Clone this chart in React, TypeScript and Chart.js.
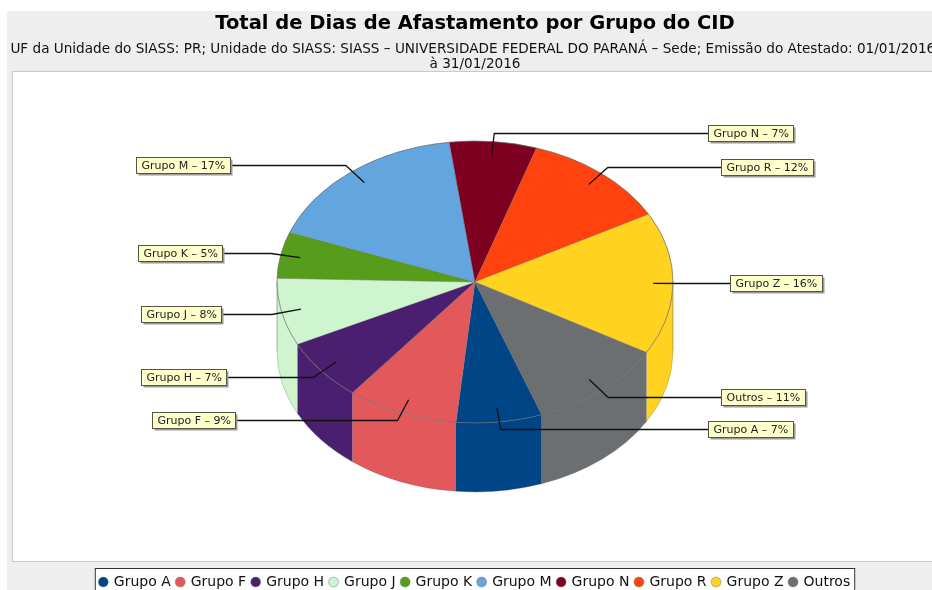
import React, { useEffect, useRef } from "react";
import { Chart, registerables } from "chart.js";

Chart.register(...registerables);

const categories = ["Grupo A", "Grupo F", "Grupo H", "Grupo J", "Grupo K", "Grupo M", "Grupo N", "Grupo R", "Grupo Z", "Outros"];
const shares = [7.0, 9.1, 7.1, 7.7, 5.3, 17.2, 7.1, 12.0, 16.3, 11.2];
const colors = ["#004586", "#E2585B", "#4B1F6F", "#CEF5CE", "#579D1C", "#63A6DF", "#7E0021", "#FF420E", "#FFD320", "#6B6F72"];
const titleText = "Total de Dias de Afastamento por Grupo do CID";
const subtitleLines = [
  "UF da Unidade do SIASS: PR; Unidade do SIASS: SIASS – UNIVERSIDADE FEDERAL DO PARANÁ – Sede; Emissão do Atestado: 01/01/2016\u00A0",
  "à 31/01/2016",
];
// where each callout box meets its leader line
const labelReach = [233, 240, 249, 254, 253, 245, 233, 246, 255, 246];
const labelY = [429, 420, 377, 314, 253, 165, 133, 167, 283, 397];

const FONT = "'DejaVu Sans'";
const CX = 475, CY = 282, RX = 198, RY = 141, DEPTH = 69;
const EDGE = "rgba(105,105,105,0.55)";

const pie3d = {
  id: "pie3d",
  beforeDraw(chart: any) {
    const { ctx } = chart;
    ctx.save();
    ctx.fillStyle = "#ffffff";
    ctx.fillRect(0, 0, chart.width, chart.height);
    ctx.fillStyle = "#EEEEEE";
    ctx.fillRect(7, 11, chart.width, chart.height);
    ctx.fillStyle = "#ffffff";
    ctx.strokeStyle = "#CACACA";
    ctx.lineWidth = 1;
    ctx.fillRect(12.5, 71.5, 940, 490);
    ctx.strokeRect(12.5, 71.5, 940, 490);
    const lg = chart.legend;
    if (lg && lg.legendHitBoxes && lg.legendHitBoxes.length) {
      const boxes = lg.legendHitBoxes;
      const left = boxes[0].left - 5;
      const last = boxes[boxes.length - 1];
      const right = last.left + last.width + 4;
      ctx.fillStyle = "#ffffff";
      ctx.strokeStyle = "#333333";
      ctx.fillRect(left + 0.5, 568.5, right - left, 40);
      ctx.strokeRect(left + 0.5, 568.5, right - left, 40);
    }
    ctx.restore();
  },
  beforeDatasetsDraw(chart: any) {
    const { ctx } = chart;
    const arcs = chart.getDatasetMeta(0).data;
    ctx.save();
    // front wall of the pie, following each slice's own angles
    arcs.forEach((arc: any, i: number) => {
      for (let k = -1; k <= 1; k++) {
        const base = 2 * Math.PI * k;
        const lo = Math.max(arc.startAngle, base);
        const hi = Math.min(arc.endAngle, base + Math.PI);
        if (lo >= hi) continue;
        ctx.beginPath();
        ctx.ellipse(CX, CY, RX, RY, 0, lo, hi);
        ctx.ellipse(CX, CY + DEPTH, RX, RY, 0, hi, lo, true);
        ctx.closePath();
        ctx.fillStyle = colors[i];
        ctx.fill();
        ctx.beginPath();
        ctx.ellipse(CX, CY + DEPTH, RX, RY, 0, lo, hi);
        ctx.strokeStyle = "rgba(105,105,105,0.3)";
        ctx.lineWidth = 1;
        ctx.stroke();
      }
    });
    ctx.beginPath();
    ctx.moveTo(CX - RX, CY);
    ctx.lineTo(CX - RX, CY + DEPTH);
    ctx.moveTo(CX + RX, CY);
    ctx.lineTo(CX + RX, CY + DEPTH);
    ctx.strokeStyle = EDGE;
    ctx.stroke();
    ctx.restore();
    // squash the library's round pie into the top face of the disc
    const a = arcs[0];
    ctx.save();
    ctx.translate(CX, CY);
    ctx.scale(RX / a.outerRadius, RY / a.outerRadius);
    ctx.translate(-a.x, -a.y);
  },
  afterDatasetsDraw(chart: any) {
    const { ctx } = chart;
    ctx.restore();
    const arcs = chart.getDatasetMeta(0).data;
    const values: number[] = chart.data.datasets[0].data;
    const total = values.reduce((s, v) => s + v, 0);
    ctx.save();
    ctx.beginPath();
    ctx.ellipse(CX, CY, RX, RY, 0, 0, Math.PI * 2);
    ctx.strokeStyle = EDGE;
    ctx.lineWidth = 1;
    ctx.stroke();
    ctx.font = `11px ${FONT}`;
    ctx.textBaseline = "middle";
    arcs.forEach((arc: any, i: number) => {
      const mid = (arc.startAngle + arc.endAngle) / 2;
      const c = Math.cos(mid), s = Math.sin(mid);
      const ax = CX + 0.9 * RX * c, ay = CY + 0.9 * RY * s;
      const ex = CX + 1.05 * RX * c;
      const text = `${categories[i]} – ${Math.round((values[i] / total) * 100)}%`;
      const w = Math.round(ctx.measureText(text).width) + 10;
      const h = 16;
      const onRight = c >= 0;
      const boxX = onRight ? CX + labelReach[i] : CX - labelReach[i] - w;
      const ly = labelY[i] + 0.5;
      ctx.beginPath();
      ctx.moveTo(ax, ay);
      ctx.lineTo(ex, ly);
      ctx.lineTo(onRight ? boxX : boxX + w, ly);
      ctx.strokeStyle = "#111111";
      ctx.lineWidth = 1.3;
      ctx.stroke();
      const bx = Math.round(boxX) + 0.5, by = ly - h / 2;
      ctx.fillStyle = "#9a9a9a";
      ctx.fillRect(bx + 2, by + 2, w, h);
      ctx.fillStyle = "#FFFFCC";
      ctx.fillRect(bx, by, w, h);
      ctx.strokeStyle = "#555544";
      ctx.lineWidth = 1;
      ctx.strokeRect(bx, by, w, h);
      ctx.fillStyle = "#222222";
      ctx.textAlign = "left";
      ctx.fillText(text, bx + 5, by + h / 2 + 0.5);
    });
    ctx.restore();
  },
};

export default function App() {
  const ref = useRef<HTMLCanvasElement>(null);
  useEffect(() => {
    const chart = new Chart(ref.current as HTMLCanvasElement, {
      type: "doughnut",
      plugins: [pie3d],
      data: {
        labels: categories,
        datasets: [
          {
            data: shares,
            backgroundColor: colors,
            borderColor: "rgba(105,105,105,0.35)",
            borderWidth: 1.2,
            clip: false,
          } as any,
        ],
      },
      options: {
        responsive: false,
        animation: false,
        devicePixelRatio: 1,
        cutout: 0,
        rotation: 160.3,
        layout: { padding: 0 },
        plugins: {
          title: {
            display: true,
            text: titleText,
            color: "#000000",
            font: { family: FONT, size: 19.5, weight: "bold", lineHeight: 1.2 },
            padding: { top: 12, bottom: 3 },
          },
          subtitle: {
            display: true,
            text: subtitleLines,
            color: "#111111",
            font: { family: FONT, size: 13.6, lineHeight: 1.12 },
            padding: { top: 3, bottom: 6 },
          },
          legend: {
            display: true,
            position: "bottom",
            labels: {
              usePointStyle: true,
              pointStyle: "circle",
              boxWidth: 7,
              boxHeight: 7,
              padding: 6,
              color: "#111111",
              font: { family: FONT, size: 14 },
            },
          },
          tooltip: { enabled: false },
        },
      } as any,
    });
    return () => chart.destroy();
  }, []);
  return (
    <div style={{ position: "absolute", left: 0, top: 0, width: 932, height: 590, overflow: "hidden" }}>
      <canvas ref={ref} width={950} height={599} style={{ display: "block" }} />
    </div>
  );
}
